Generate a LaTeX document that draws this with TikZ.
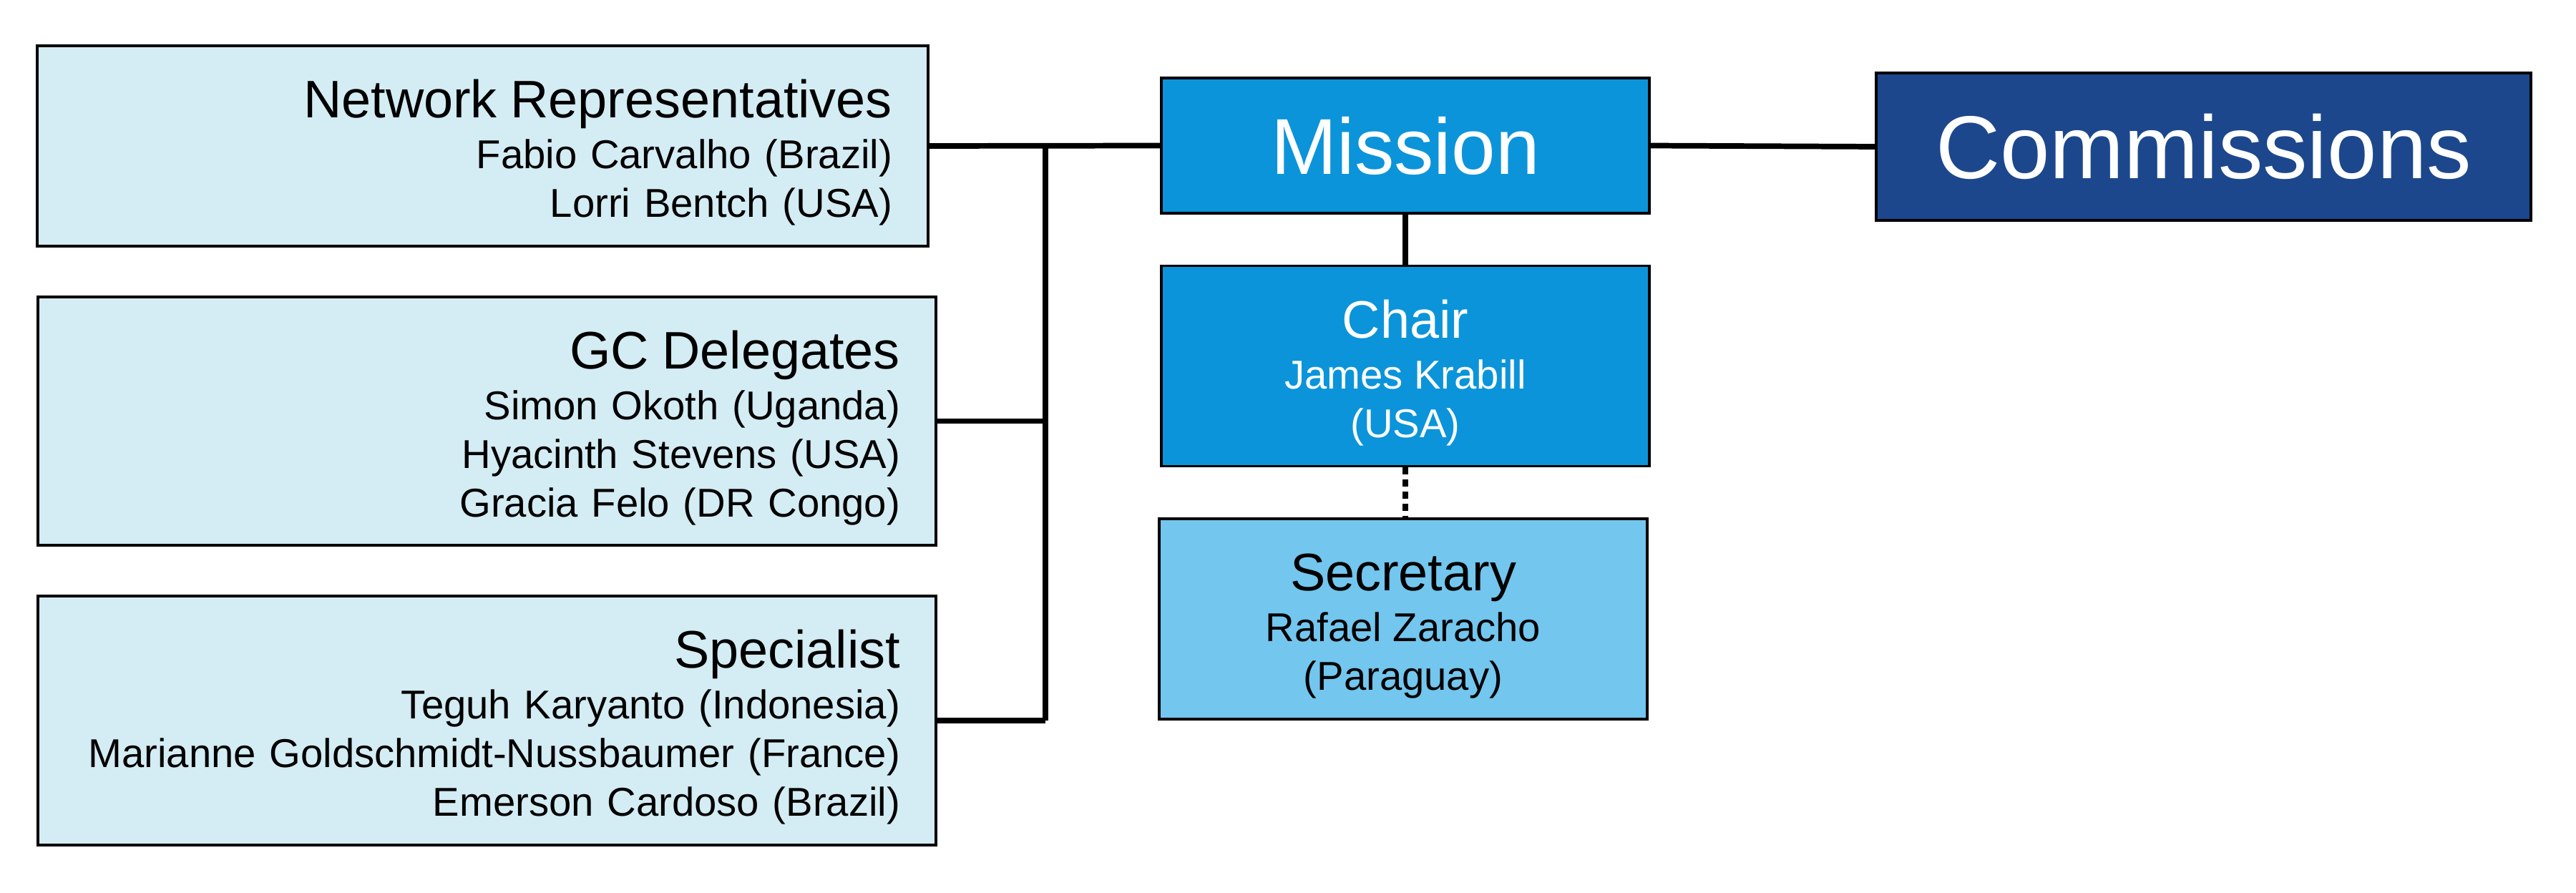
\documentclass[tikz,border=0pt]{standalone}
\usepackage{fontspec}
\setmainfont{Liberation Sans}
\usepackage{tikz}
\usetikzlibrary{calc}

\definecolor{paleblue}{HTML}{D4ECF3}
\definecolor{midblue}{HTML}{0B94DA}
\definecolor{skyblue}{HTML}{73C6EE}
\definecolor{navyblue}{HTML}{1C478C}

\tikzset{
  box/.style={draw=black,line width=0.9pt,rectangle,inner sep=0pt},
  group/.style={box,fill=paleblue,inner xsep=0.5cm,align=right,
    font=\fontsize{16}{19.3}\selectfont},
  center/.style={box,align=center,font=\fontsize{16}{19.3}\selectfont,
    minimum width=6.82cm,minimum height=2.8cm},
  link/.style={line width=2.2pt,black}
}
\newcommand{\grouptitle}[1]{{\fontsize{21}{19.3}\selectfont\rule{0pt}{20.5pt}#1}\\[0.9pt]}

\begin{document}
\begin{tikzpicture}
\useasboundingbox (0,0) rectangle (36,-12.48);
% member groups on the left
\node[group,text width=11.45cm,minimum height=2.80cm] (net) at (6.745,-2.04)
  {\grouptitle{Network Representatives}Fabio Carvalho (Brazil)\\Lorri Bentch (USA)};
\node[group,text width=11.55cm,minimum height=3.47cm] (gc) at (6.805,-5.885)
  {\grouptitle{GC Delegates}Simon Okoth (Uganda)\\Hyacinth Stevens (USA)\\Gracia Felo (DR Congo)};
\node[group,text width=11.55cm,minimum height=3.48cm] (spec) at (6.805,-10.07)
  {\grouptitle{Specialist}Teguh Karyanto (Indonesia)\\Marianne Goldschmidt-Nussbaumer (France)\\Emerson Cardoso (Brazil)};
% centre column
\node[center,fill=midblue,text=white,minimum height=1.89cm,
  font=\fontsize{31.5}{36}\selectfont] (mission) at (19.64,-2.035) {Mission};
\node[center,fill=midblue,text=white] (chair) at (19.64,-5.115)
  {\grouptitle{Chair}James Krabill\\(USA)};
\node[center,fill=skyblue] (sec) at (19.61,-8.65)
  {\grouptitle{Secretary}Rafael Zaracho\\(Paraguay)};
\node[box,fill=navyblue,text=white,minimum width=9.15cm,minimum height=2.06cm,
  font=\fontsize{35.5}{40}\selectfont] (comm) at (30.795,-2.05) {Commissions};
% connectors
\coordinate (bus) at (14.61,-2.04);
\draw[link] (net.east) -- (mission.west);
\draw[link] (bus) -- (bus |- spec.east);
\draw[link] (gc.east) -- (gc.east -| bus);
\draw[link] (spec.east) -- (spec.east -| bus);
\draw[link] (mission.east) -- (comm.west);
\draw[link] (mission.south) -- (chair.north);
\draw[link,dash pattern=on 0.1cm off 0.07cm] (chair.south) -- (chair.south |- sec.north);
\end{tikzpicture}
\end{document}
